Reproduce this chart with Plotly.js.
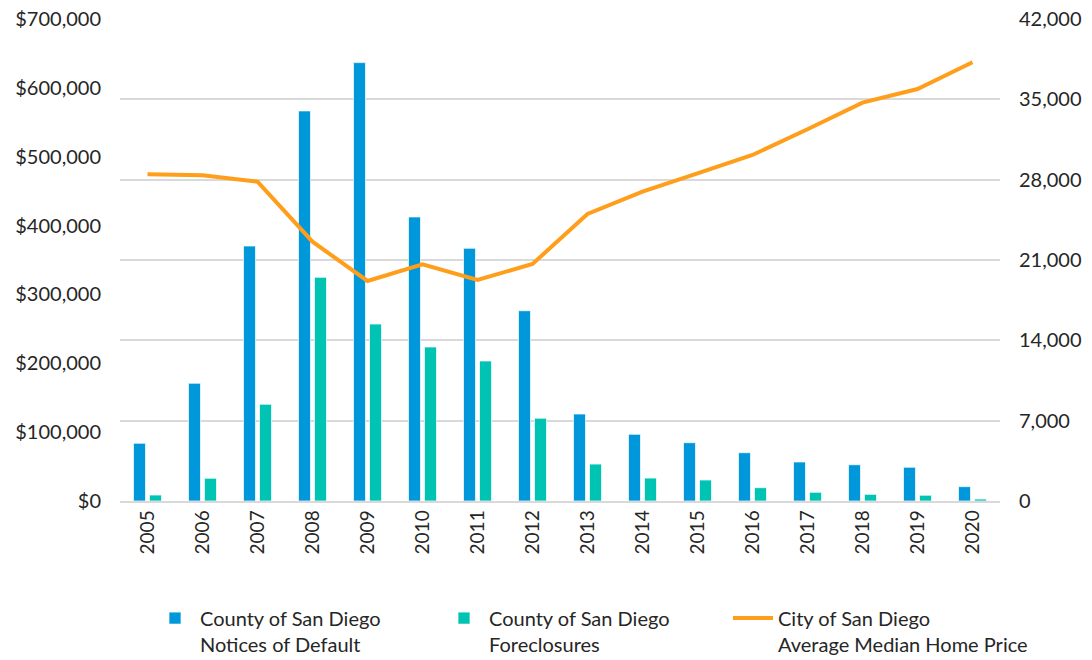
<!DOCTYPE html>
<html>
<head>
<meta charset="utf-8">
<script src="https://cdn.plot.ly/plotly-3.0.1.min.js"></script>
<style>html,body{margin:0;padding:0;background:#fff;}#chart{width:1092px;height:660px;}</style>
</head>
<body>
<div id="chart"></div>
<script>
const years = ['2005','2006','2007','2008','2009','2010','2011','2012','2013','2014','2015','2016','2017','2018','2019','2020'];
const noticesOfDefault = [5030, 10260, 22220, 33990, 38200, 24750, 22020, 16580, 7580, 5810, 5080, 4210, 3400, 3160, 2940, 1250];
const foreclosures = [520, 1980, 8430, 19490, 15420, 13420, 12200, 7210, 3220, 2000, 1830, 1160, 760, 580, 500, 170];
const medianPrice = [474500, 473000, 463700, 376600, 319500, 343800, 321000, 344200, 416800, 449200, 475900, 502500, 539800, 578500, 598300, 637100];
const names = ['County of San Diego<br>Notices of Default', 'County of San Diego<br>Foreclosures', 'City of San Diego<br>Average Median Home Price'];

const fontFam = 'Lato, "Open Sans", sans-serif';
const data = [
  {type:'bar', x: years, y: noticesOfDefault, name: names[0], yaxis:'y', legend:'legend',
   marker:{color:'#0098DA', line:{color:'rgba(255,255,255,0.7)', width:1}}},
  {type:'bar', x: years, y: foreclosures, name: names[1], yaxis:'y', legend:'legend2',
   marker:{color:'#00C4B3', line:{color:'rgba(255,255,255,0.7)', width:1}}},
  {type:'scatter', mode:'lines', x: years, y: medianPrice, name: names[2], yaxis:'y2', legend:'legend3',
   line:{color:'#FF9E1B', width:4}}
];
function leg(xpx){
  return {orientation:'h', xref:'container', yref:'container', x:xpx/1092, xanchor:'left', y:0.093, yanchor:'top',
          itemwidth:40, valign:'top', bgcolor:'rgba(0,0,0,0)',
          font:{family:fontFam, size:20, color:'#262626'}};
}
const layout = {
  width:1092, height:660,
  margin:{l:120, r:92, t:19, b:159},
  paper_bgcolor:'#fff', plot_bgcolor:'#fff',
  font:{family:fontFam, size:20, color:'#262626'},
  barmode:'group', bargap:0.418, bargroupgap:0.25,
  showlegend:true,
  legend: leg(150), legend2: leg(439), legend3: leg(728),
  xaxis:{type:'category', tickangle:-90, showgrid:false, showline:true, linecolor:'#d9d9d9', linewidth:1.5,
         ticks:'', tickfont:{size:19}, zeroline:false, automargin:false},
  yaxis:{side:'right', range:[0,42000], dtick:7000, tickformat:',', showgrid:true, gridcolor:'#d9d9d9', gridwidth:1.5,
         zeroline:false, showline:false, ticks:'', tickfont:{size:20}, ticklabelstandoff:18, automargin:false},
  yaxis2:{side:'left', overlaying:'y', range:[0,700000], dtick:100000, tickformat:',', tickprefix:'$',
          showgrid:false, zeroline:false, showline:false, ticks:'', tickfont:{size:20}, ticklabelstandoff:18, automargin:false}
};
Plotly.newPlot('chart', data, layout, {displayModeBar:false, responsive:false});
</script>
</body>
</html>
